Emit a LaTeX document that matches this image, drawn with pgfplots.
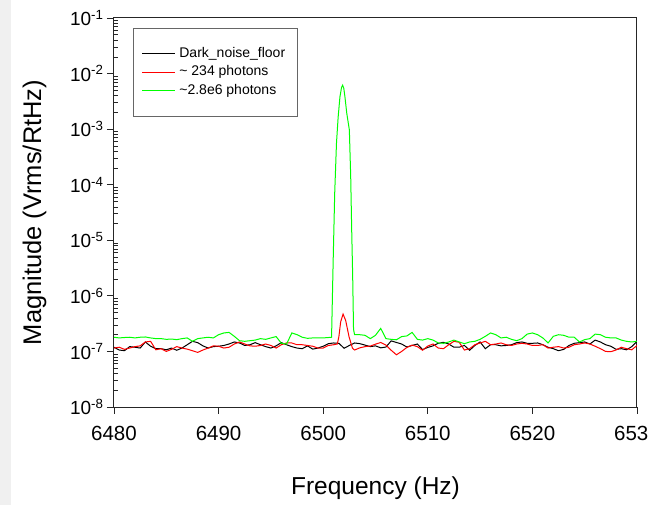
\documentclass[border=0pt]{standalone}
\usepackage{fontspec}
\setmainfont{Liberation Sans}
\usepackage{pgfplots}
\pgfplotsset{compat=1.18}
\usepackage{pgfplotstable}

\pgfplotstableread{
x y
6480 1.19e-7
6480.5 1.06e-7
6481 1.03e-7
6481.5 1.22e-7
6482 1.19e-7
6482.5 1.15e-7
6483 1.48e-7
6483.5 1.24e-7
6484 1.12e-7
6484.5 1.12e-7
6485 1.07e-7
6485.5 1.15e-7
6486 1.05e-7
6486.5 1.15e-7
6487 1.32e-7
6487.5 1.52e-7
6488 1.44e-7
6488.5 1.26e-7
6489 1.15e-7
6489.5 1.22e-7
6490 1.24e-7
6490.5 1.28e-7
6491 1.36e-7
6491.5 1.48e-7
6492 1.42e-7
6492.5 1.28e-7
6493 1.32e-7
6493.5 1.44e-7
6494 1.32e-7
6494.5 1.22e-7
6495 1.15e-7
6495.5 1.26e-7
6496 1.44e-7
6496.5 1.32e-7
6497 1.22e-7
6497.5 1.15e-7
6498 1.12e-7
6498.5 1.26e-7
6499 1.10e-7
6499.5 1.15e-7
6500 1.24e-7
6500.5 1.38e-7
6501 1.42e-7
6501.5 1.40e-7
6502 1.14e-7
6502.5 1.28e-7
6503 1.42e-7
6503.5 1.38e-7
6504 1.30e-7
6504.5 1.22e-7
6505 1.26e-7
6505.5 1.16e-7
6506 1.20e-7
6506.5 1.55e-7
6507 1.45e-7
6507.5 1.36e-7
6508 1.20e-7
6508.5 1.28e-7
6509 1.36e-7
6509.5 1.08e-7
6510 1.18e-7
6510.5 1.26e-7
6511 1.40e-7
6511.5 1.46e-7
6512 1.36e-7
6512.5 1.19e-7
6513 1.19e-7
6513.5 1.28e-7
6514 1.05e-7
6514.5 1.28e-7
6515 1.48e-7
6515.5 1.12e-7
6516 1.32e-7
6516.5 1.32e-7
6517 1.26e-7
6517.5 1.28e-7
6518 1.32e-7
6518.5 1.44e-7
6519 1.48e-7
6519.5 1.40e-7
6520 1.40e-7
6520.5 1.42e-7
6521 1.32e-7
6521.5 1.19e-7
6522 1.12e-7
6522.5 1.03e-7
6523 1.09e-7
6523.5 1.28e-7
6524 1.40e-7
6524.5 1.44e-7
6525 1.48e-7
6525.5 1.36e-7
6526 1.60e-7
6526.5 1.48e-7
6527 1.32e-7
6527.5 1.24e-7
6528 1.09e-7
6528.5 1.12e-7
6529 1.07e-7
6529.5 1.22e-7
6530 1.52e-7
}\darkdata

\pgfplotstableread{
x y
6480 1.15e-7
6480.5 1.19e-7
6481 1.09e-7
6481.5 1.15e-7
6482 1.22e-7
6482.5 1.26e-7
6483 1.48e-7
6483.5 1.52e-7
6484 1.07e-7
6484.5 1.12e-7
6485 1.00e-7
6485.5 1.09e-7
6486 1.22e-7
6486.5 1.15e-7
6487 1.10e-7
6487.5 1.03e-7
6488 9.6e-8
6488.5 1.06e-7
6489 1.15e-7
6489.5 1.26e-7
6490 1.24e-7
6490.5 1.15e-7
6491 1.19e-7
6491.5 1.36e-7
6492 1.48e-7
6492.5 1.36e-7
6493 1.26e-7
6493.5 1.24e-7
6494 1.28e-7
6494.5 1.36e-7
6495 1.28e-7
6495.5 1.15e-7
6496 1.32e-7
6496.5 1.42e-7
6497 1.42e-7
6497.5 1.32e-7
6498 1.32e-7
6498.5 1.28e-7
6499 1.24e-7
6499.5 1.15e-7
6500 1.15e-7
6500.5 1.28e-7
6501 1.32e-7
6501.35 1.36e-7
6501.5 1.84e-7
6501.67 3.4e-7
6501.9 4.7e-7
6502.15 3.6e-7
6502.47 1.84e-7
6502.8 1.14e-7
6503 1.06e-7
6503.5 1.16e-7
6504 1.22e-7
6504.5 1.25e-7
6505 1.35e-7
6505.5 1.45e-7
6506 1.30e-7
6506.5 1.05e-7
6507 8.7e-8
6507.5 1.00e-7
6508 1.18e-7
6508.5 1.30e-7
6509 1.22e-7
6509.5 1.05e-7
6510 1.25e-7
6510.5 1.36e-7
6511 1.15e-7
6511.5 1.12e-7
6512 1.32e-7
6512.5 1.52e-7
6513 1.46e-7
6513.5 1.06e-7
6514 1.12e-7
6514.5 1.32e-7
6515 1.42e-7
6515.5 1.52e-7
6516 1.32e-7
6516.5 1.36e-7
6517 1.42e-7
6517.5 1.32e-7
6518 1.28e-7
6518.5 1.36e-7
6519 1.40e-7
6519.5 1.36e-7
6520 1.28e-7
6520.5 1.28e-7
6521 1.32e-7
6521.5 1.15e-7
6522 1.19e-7
6522.5 1.22e-7
6523 1.15e-7
6523.5 1.19e-7
6524 1.32e-7
6524.5 1.36e-7
6525 1.42e-7
6525.5 1.36e-7
6526 1.24e-7
6526.5 1.12e-7
6527 1.00e-7
6527.5 9.9e-8
6528 1.06e-7
6528.5 1.19e-7
6529 1.12e-7
6529.5 1.07e-7
6530 1.28e-7
}\reddata

\pgfplotstableread{
x y
6480 1.80e-7
6480.5 1.75e-7
6481 1.78e-7
6481.5 1.80e-7
6482 1.75e-7
6482.5 1.80e-7
6483 1.82e-7
6483.5 1.75e-7
6484 1.70e-7
6484.5 1.70e-7
6485 1.65e-7
6485.5 1.67e-7
6486 1.63e-7
6486.5 1.70e-7
6487 1.75e-7
6487.5 1.52e-7
6488 1.70e-7
6488.5 1.75e-7
6489 1.80e-7
6489.5 1.75e-7
6490 2.00e-7
6490.5 2.15e-7
6491 2.20e-7
6491.5 1.87e-7
6492 1.56e-7
6492.5 1.52e-7
6493 1.56e-7
6493.5 1.60e-7
6494 1.70e-7
6494.5 1.65e-7
6495 1.75e-7
6495.5 1.85e-7
6496 1.40e-7
6496.5 1.36e-7
6497 2.15e-7
6497.5 2.00e-7
6498 1.80e-7
6498.5 1.72e-7
6499 1.75e-7
6499.5 1.75e-7
6500 1.75e-7
6500.5 1.78e-7
6500.8 1.80e-7
6500.95 4.0e-6
6501.1 7.0e-5
6501.27 5.6e-4
6501.43 1.65e-3
6501.6 3.8e-3
6501.75 5.6e-3
6501.86 6.2e-3
6501.97 5.4e-3
6502.08 3.8e-3
6502.25 1.95e-3
6502.5 9.7e-4
6502.63 1.4e-4
6502.72 1.7e-5
6502.82 2.2e-6
6502.9 2.5e-7
6503 2.0e-7
6503.5 2.0e-7
6504 1.95e-7
6504.5 1.70e-7
6505 1.95e-7
6505.5 2.6e-7
6506 1.70e-7
6506.5 1.65e-7
6507 1.62e-7
6507.5 1.85e-7
6508 1.90e-7
6508.5 2.20e-7
6509 1.65e-7
6509.5 1.60e-7
6510 1.70e-7
6510.5 1.60e-7
6511 1.42e-7
6511.5 1.40e-7
6512 1.48e-7
6512.5 1.60e-7
6513 1.48e-7
6513.5 1.38e-7
6514 1.48e-7
6514.5 1.52e-7
6515 1.65e-7
6515.5 1.87e-7
6516 2.15e-7
6516.5 2.00e-7
6517 1.75e-7
6517.5 1.80e-7
6518 1.65e-7
6518.5 1.56e-7
6519 1.70e-7
6519.5 2.05e-7
6520 2.15e-7
6520.5 2.00e-7
6521 1.75e-7
6521.5 1.42e-7
6522 1.87e-7
6522.5 2.00e-7
6523 1.95e-7
6523.5 1.80e-7
6524 1.80e-7
6524.5 1.48e-7
6525 1.63e-7
6525.5 1.70e-7
6526 2.05e-7
6526.5 2.00e-7
6527 1.80e-7
6527.5 1.75e-7
6528 1.75e-7
6528.5 1.60e-7
6529 1.52e-7
6529.5 1.48e-7
6530 1.52e-7
}\greendata

\begin{document}
\begin{tikzpicture}
\path[use as bounding box] (-114pt,-98pt) rectangle (535pt,407pt);
\fill[white] (-114pt,-98pt) rectangle (535pt,407pt);
\fill[black!6] (-114pt,-98pt) rectangle (-103pt,407pt);
\begin{axis}[
  at={(0pt,0pt)}, anchor=south west,
  scale only axis, width=523pt, height=389pt,
  ymode=log,
  xmin=6480, xmax=6530, ymin=1e-8, ymax=1e-1,
  xtick={6480,6490,6500,6510,6520,6530},
  xticklabels={6480,6490,6500,6510,6520,6530},
  ytick={1e-8,1e-7,1e-6,1e-5,1e-4,1e-3,1e-2,1e-1},
  yticklabels={10\textsuperscript{-8},10\textsuperscript{-7},10\textsuperscript{-6},10\textsuperscript{-5},10\textsuperscript{-4},10\textsuperscript{-3},10\textsuperscript{-2},10\textsuperscript{-1}},
  minor ytick={2e-8,3e-8,4e-8,5e-8,6e-8,7e-8,8e-8,9e-8,
    2e-7,3e-7,4e-7,5e-7,6e-7,7e-7,8e-7,9e-7,
    2e-6,3e-6,4e-6,5e-6,6e-6,7e-6,8e-6,9e-6,
    2e-5,3e-5,4e-5,5e-5,6e-5,7e-5,8e-5,9e-5,
    2e-4,3e-4,4e-4,5e-4,6e-4,7e-4,8e-4,9e-4,
    2e-3,3e-3,4e-3,5e-3,6e-3,7e-3,8e-3,9e-3,
    2e-2,3e-2,4e-2,5e-2,6e-2,7e-2,8e-2,9e-2},
  tick pos=left, tick align=outside,
  major tick length=7pt, minor tick length=4pt,
  axis line style={line width=1pt, black!85},
  every tick/.style={black!85, line width=0.8pt},
  every minor tick/.append style={xshift=4pt, line width=0.6pt},
  xticklabel style={font=\fontsize{20.5}{24}\selectfont, yshift=-9pt},
  yticklabel style={font=\fontsize{19}{23}\selectfont},
  xlabel={Frequency (Hz)},
  ylabel={Magnitude (Vrms/RtHz)},
  xlabel style={font=\fontsize{24.5}{28}\selectfont, at={(axis description cs:0.5,-0.208)}, anchor=center},
  ylabel style={font=\fontsize{25.5}{29}\selectfont, at={(axis description cs:-0.152,0.5)}, anchor=center},
  legend style={at={(axis description cs:0.0363,0.9743)}, anchor=north west,
    draw=black!60, line width=0.8pt, font=\fontsize{14}{16}\selectfont,
    inner xsep=8.5pt, inner ysep=19pt, row sep=5.5pt,
    nodes={inner xsep=3.5pt, inner ysep=0pt, text height=10pt, text depth=3pt}},
  legend cell align=left,
  legend image code/.code={\draw[#1] (0pt,0pt) -- (33pt,0pt);},
]
\addplot[black, line width=1pt] table {\darkdata};
\addlegendentry{Dark\_noise\_floor\hspace{7pt}}
\addplot[red, line width=1pt] table {\reddata};
\addlegendentry{\textasciitilde{} 234 photons}
\addplot[green, line width=1pt] table {\greendata};
\addlegendentry{\textasciitilde2.8e6 photons}
\end{axis}
\end{tikzpicture}
\end{document}
